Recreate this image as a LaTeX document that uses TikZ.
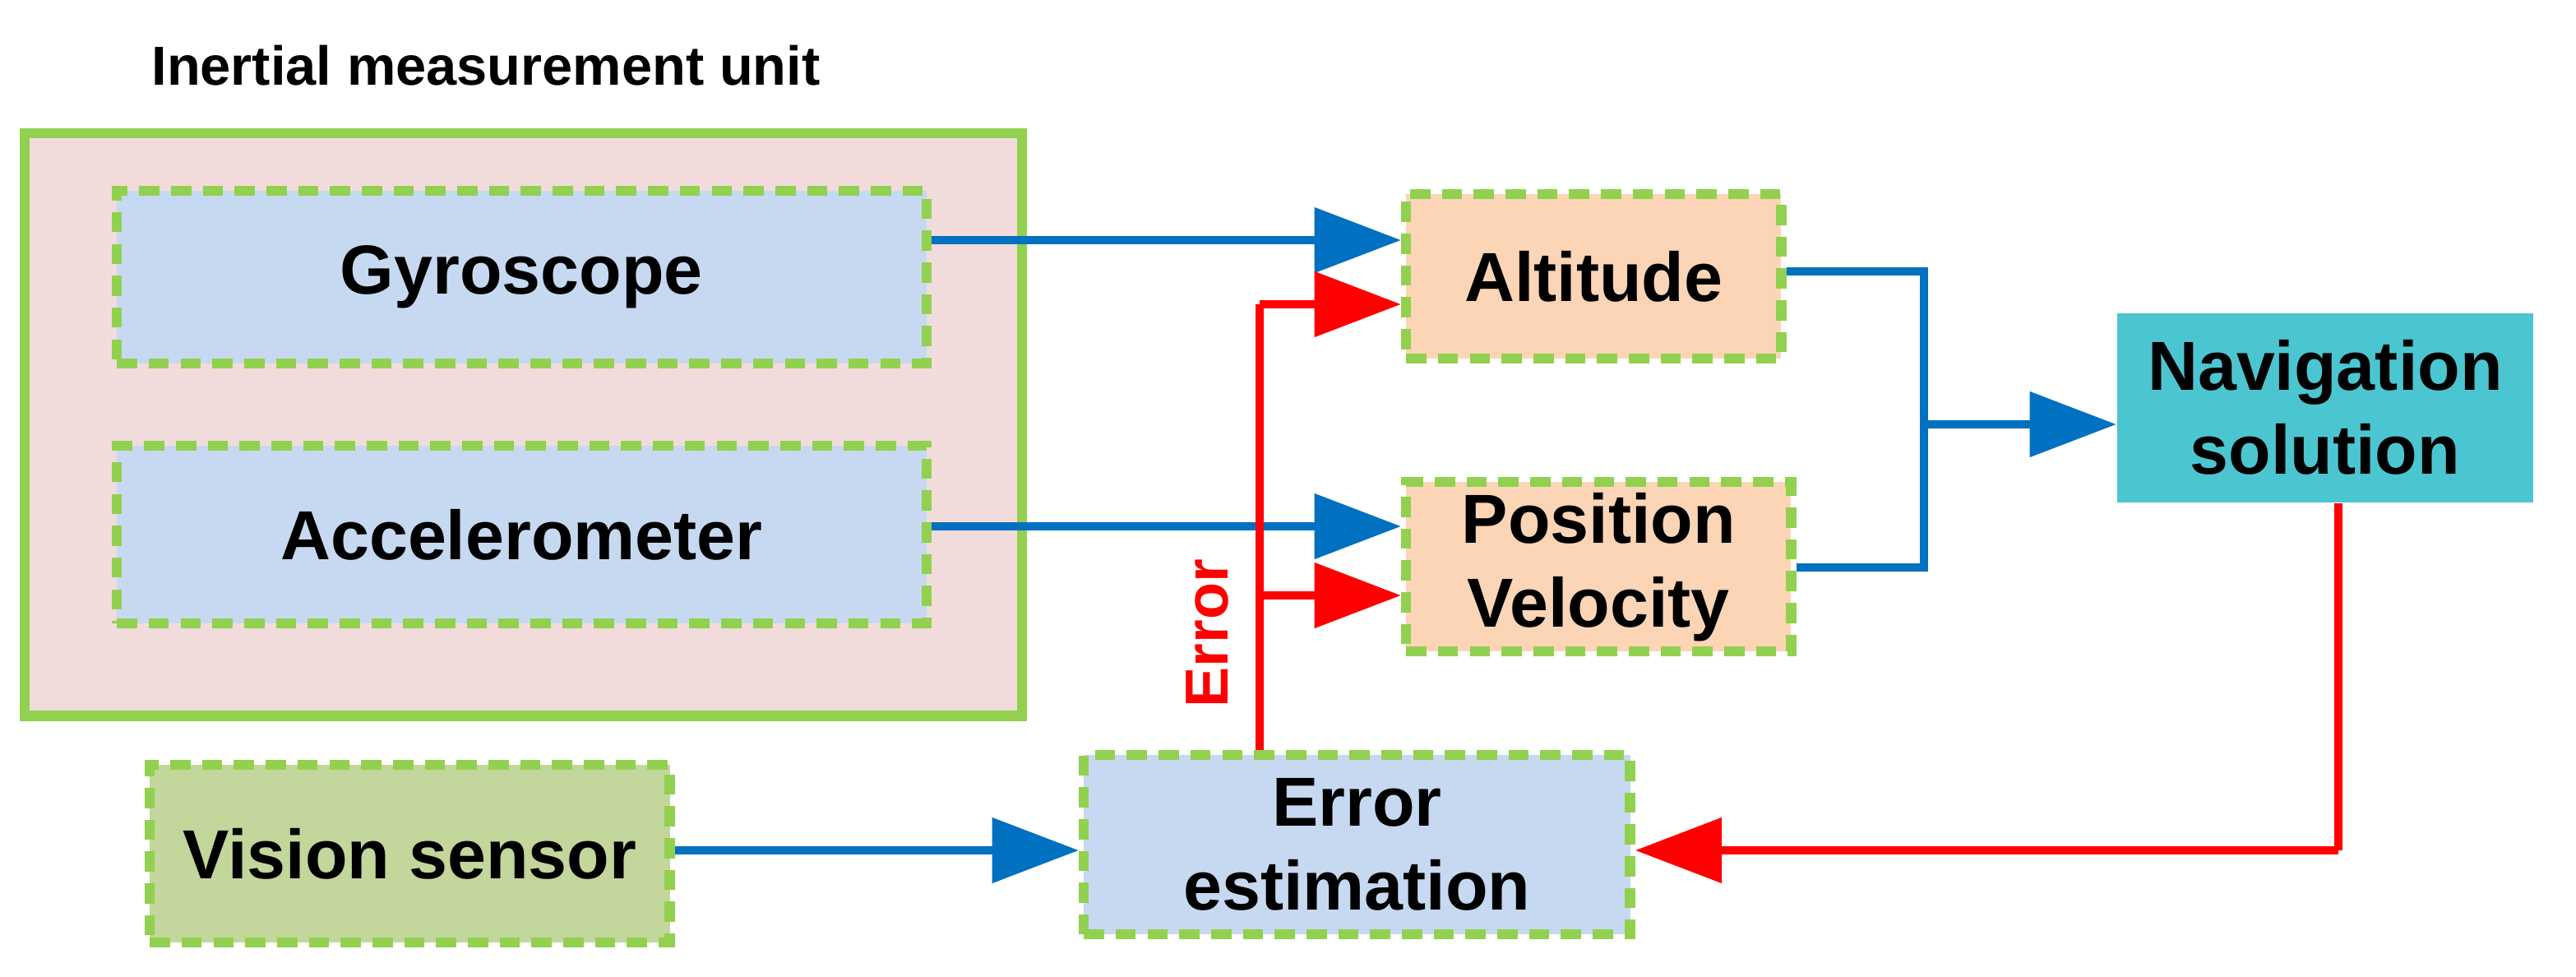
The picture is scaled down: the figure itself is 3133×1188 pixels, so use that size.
\documentclass[tikz,border=0pt]{standalone}
\usepackage{fontspec}
\setmainfont{Liberation Sans}
\usetikzlibrary{arrows.meta}
\definecolor{gbor}{HTML}{92D050}
\definecolor{pinkf}{HTML}{F2DCDB}
\definecolor{bluef}{HTML}{C6D9F1}
\definecolor{peach}{HTML}{FBD5B5}
\definecolor{navf}{HTML}{4BC6D1}
\definecolor{visf}{HTML}{C3D69B}
\definecolor{ablue}{HTML}{0070C0}
\definecolor{ared}{HTML}{FF0000}
\begin{document}
\begin{tikzpicture}[x=0.01cm,y=-0.01cm,
 box/.style={draw=gbor,line width=3.5pt,dash pattern=on 7pt off 4pt,inner sep=0pt,align=center,font=\fontsize{24}{29}\selectfont\bfseries},
 blu/.style={ablue,line width=3pt,-{Triangle[length=30pt,width=22pt]}},
 rd/.style={ared,line width=3pt,-{Triangle[length=30pt,width=22pt]}},
 bl/.style={ablue,line width=3pt},
 rl/.style={ared,line width=3pt}]
\useasboundingbox (0,0) rectangle (3133,1188);
\node[font=\fontsize{19}{23}\selectfont\bfseries,anchor=west] (title) at (172,80) {Inertial measurement unit};
\node[draw=gbor,fill=pinkf,line width=3.5pt,minimum width=12.12cm,minimum height=7.08cm,anchor=north west,inner sep=0pt] (imu) at (24,156) {};
\node[box,fill=bluef,minimum width=9.84cm,minimum height=2.10cm,anchor=north west] (gyro) at (136,226) {Gyroscope};
\node[box,fill=bluef,minimum width=9.84cm,minimum height=2.16cm,anchor=north west] (acc) at (136,536) {Accelerometer};
\node[box,fill=peach,minimum width=4.56cm,minimum height=2.00cm,anchor=north west] (alt) at (1704,230) {Altitude};
\node[box,fill=peach,minimum width=4.68cm,minimum height=2.06cm,anchor=north west] (pos) at (1704,580) {Position\\Velocity};
\node[fill=navf,minimum width=5.06cm,minimum height=2.30cm,anchor=north west,inner sep=0pt,align=center,font=\fontsize{24}{29}\selectfont\bfseries] (nav) at (2574,380) {Navigation\\solution};
\node[box,fill=visf,minimum width=6.32cm,minimum height=2.16cm,anchor=north west] (vis) at (176,924) {Vision sensor};
\node[box,fill=bluef,minimum width=6.64cm,minimum height=2.18cm,anchor=north west] (err) at (1312,912) {Error\\estimation};
\coordinate (j) at (2340,516);
\coordinate (e) at (1532,370);
\coordinate (b) at (2844,1034);
\draw[blu] (gyro.east|-0,292) -- (alt.west|-0,292);
\draw[blu] (acc.east|-0,640) -- (pos.west|-0,640);
\draw[bl] (alt.east|-0,330) -| (j);
\draw[bl] (pos.east|-0,690) -| (j);
\draw[blu] (j) -- (nav.west|-j);
\draw[blu] (vis.east|-0,1034) -- (err.west|-0,1034);
\draw[rl] (err.north-|e) -- (e);
\draw[rd] (e) -- (alt.west|-e);
\draw[rd] (1532,724) -- (pos.west|-0,724);
\draw[rl] (nav.south-|b) -- (b);
\draw[rd] (b) -- (err.east|-b);
\node[ared,rotate=90,font=\fontsize{21}{25}\selectfont\bfseries] (lab) at (1468,770) {Error};
\end{tikzpicture}
\end{document}
